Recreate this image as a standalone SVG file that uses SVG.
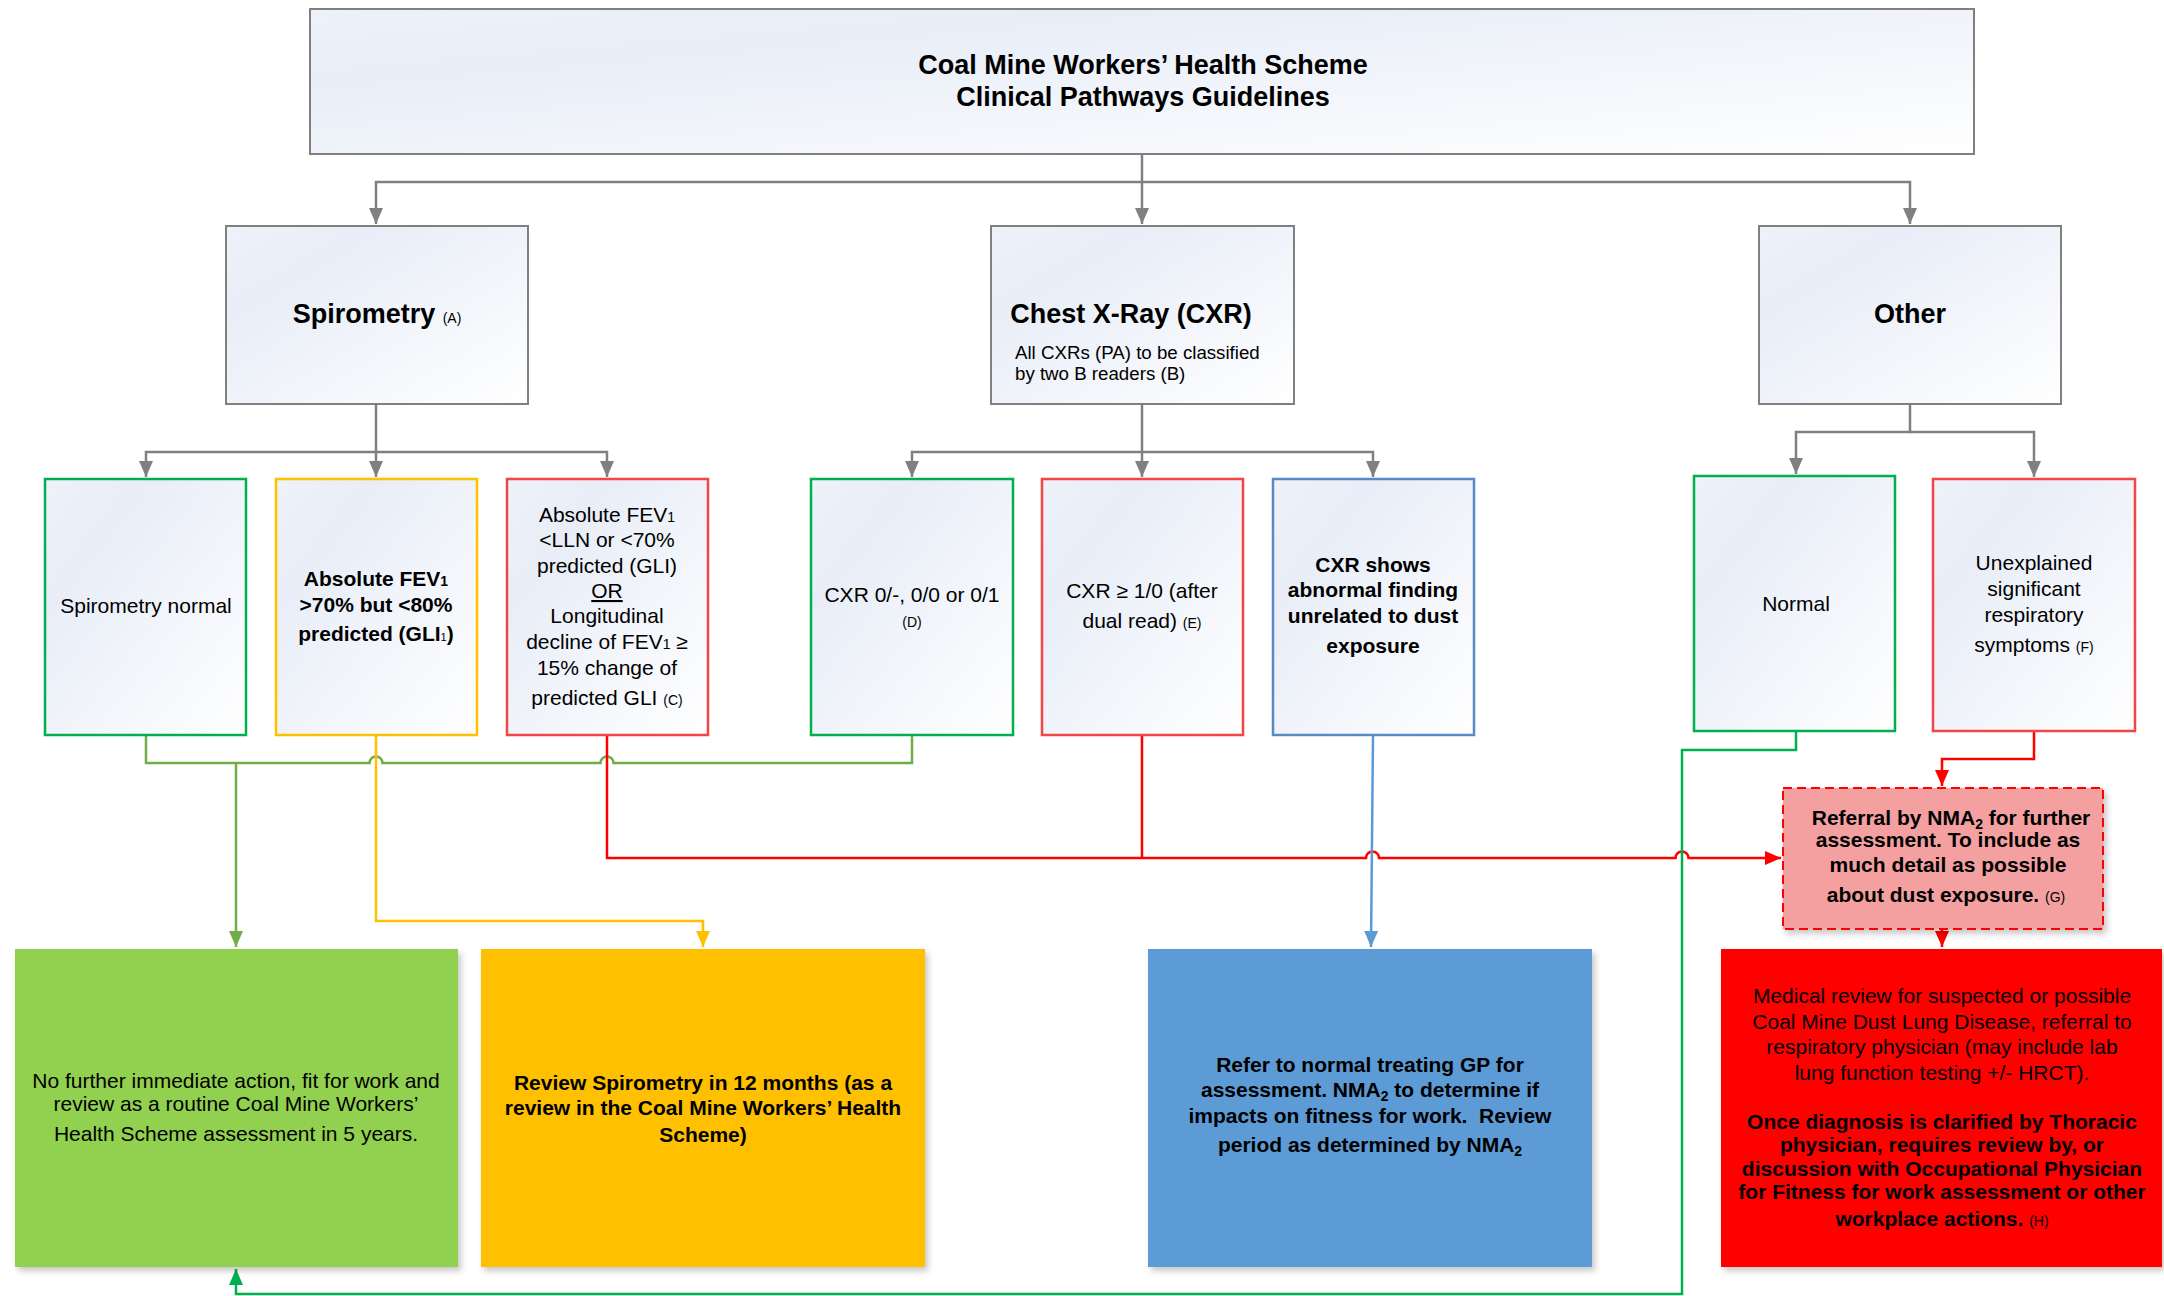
<svg xmlns="http://www.w3.org/2000/svg" width="2164" height="1296" viewBox="0 0 2164 1296">
<defs>
<linearGradient id="pale" x1="0" y1="0" x2="1" y2="1">
<stop offset="0" stop-color="#EEF2F9"/>
<stop offset="0.25" stop-color="#E8EDF7"/>
<stop offset="1" stop-color="#FFFFFF"/>
</linearGradient>
<filter id="shadow" x="-5%" y="-5%" width="115%" height="115%">
<feDropShadow dx="3" dy="4" stdDeviation="3" flood-color="#000000" flood-opacity="0.22"/>
</filter>
<marker id="aGray" markerUnits="userSpaceOnUse" markerWidth="16" markerHeight="16" refX="16" refY="8" orient="auto"><path d="M0,1 L16,8 L0,15 z" fill="#808080"/></marker>
<marker id="aGreen" markerUnits="userSpaceOnUse" markerWidth="16" markerHeight="16" refX="16" refY="8" orient="auto"><path d="M0,1 L16,8 L0,15 z" fill="#70AD47"/></marker>
<marker id="aGreen2" markerUnits="userSpaceOnUse" markerWidth="16" markerHeight="16" refX="16" refY="8" orient="auto"><path d="M0,1 L16,8 L0,15 z" fill="#00B050"/></marker>
<marker id="aYellow" markerUnits="userSpaceOnUse" markerWidth="16" markerHeight="16" refX="16" refY="8" orient="auto"><path d="M0,1 L16,8 L0,15 z" fill="#FFC000"/></marker>
<marker id="aRed" markerUnits="userSpaceOnUse" markerWidth="16" markerHeight="16" refX="16" refY="8" orient="auto"><path d="M0,1 L16,8 L0,15 z" fill="#FF0000"/></marker>
<marker id="aBlue" markerUnits="userSpaceOnUse" markerWidth="16" markerHeight="16" refX="16" refY="8" orient="auto"><path d="M0,1 L16,8 L0,15 z" fill="#5B9BD5"/></marker>
</defs>
<style>
text{font-family:"Liberation Sans",Arial,sans-serif;fill:#000;text-anchor:middle}
.t26{font-size:27px;font-weight:bold}
.r{font-size:21px}
.b{font-size:21px;font-weight:bold}
.s{font-size:14px;font-weight:normal}
.sub{font-size:14px}
.top{fill:url(#pale);stroke:#808080;stroke-width:2}
.l2{fill:url(#pale);stroke-width:2.5}
.gr{stroke:#00B050}.ye{stroke:#FFC000}.rd{stroke:#F24545}.bl{stroke:#5A8AC6}
.c{fill:none;stroke-width:2.5}
.cg{stroke:#808080;fill:none;stroke-width:2.5}
</style>

<g id="connectors">
<path class="cg" d="M1142,154 V182"/>
<path class="cg" d="M1142,182 H376 V224" marker-end="url(#aGray)"/>
<path class="cg" d="M1142,182 V224" marker-end="url(#aGray)"/>
<path class="cg" d="M1142,182 H1910 V224" marker-end="url(#aGray)"/>
<path class="cg" d="M376,404 V452 H146 V477" marker-end="url(#aGray)"/>
<path class="cg" d="M376,452 V477" marker-end="url(#aGray)"/>
<path class="cg" d="M376,452 H607 V477" marker-end="url(#aGray)"/>
<path class="cg" d="M1142,404 V452 H912 V477" marker-end="url(#aGray)"/>
<path class="cg" d="M1142,452 V477" marker-end="url(#aGray)"/>
<path class="cg" d="M1142,452 H1373 V477" marker-end="url(#aGray)"/>
<path class="cg" d="M1910,404 V432 H1796 V474" marker-end="url(#aGray)"/>
<path class="cg" d="M1910,432 H2034 V477" marker-end="url(#aGray)"/>

<path class="c" stroke="#70AD47" d="M146,735 V763 H369.5 A6.5,6.5 0 0 1 382.5,763 H600.5 A6.5,6.5 0 0 1 613.5,763 H912 V735"/>
<path class="c" stroke="#70AD47" d="M236,763 V947" marker-end="url(#aGreen)"/>
<path class="c" stroke="#FFC000" d="M376,735 V921 H703 V947" marker-end="url(#aYellow)"/>
<path class="c" stroke="#FF0000" d="M607,735 V858 H1366 A6.5,6.5 0 0 1 1379,858 H1675.5 A6.5,6.5 0 0 1 1688.5,858 H1781" marker-end="url(#aRed)"/>
<path class="c" stroke="#FF0000" d="M1142,735 V858"/>
<path class="c" stroke="#5B9BD5" d="M1373,735 L1371,947" marker-end="url(#aBlue)"/>
<path class="c" stroke="#00B050" d="M1796,731 V750 H1682 V1294 H236 V1269" marker-end="url(#aGreen2)"/>
<path class="c" stroke="#FF0000" d="M2034,731 V759 H1942 V786" marker-end="url(#aRed)"/>
<path class="c" stroke="#FF0000" d="M1942,929 V947" marker-end="url(#aRed)"/>
</g>

<g id="title">
<rect class="top" x="310" y="9" width="1664" height="145"/>
<text class="t26" x="1143" y="74">Coal Mine Workers’ Health Scheme</text>
<text class="t26" x="1143" y="106">Clinical Pathways Guidelines</text>
</g>

<g id="spirometry">
<rect class="top" x="226" y="226" width="302" height="178"/>
<text class="t26" x="377" y="323">Spirometry <tspan class="s">(A)</tspan></text>
</g>

<g id="cxr">
<rect class="top" x="991" y="226" width="303" height="178"/>
<text class="t26" x="1131" y="323">Chest X-Ray (CXR)</text>
<text style="font-size:18.7px;text-anchor:start" x="1015" y="359">All CXRs (PA) to be classified</text>
<text style="font-size:18.7px;text-anchor:start" x="1015" y="380">by two B readers (B)</text>
</g>

<g id="other">
<rect class="top" x="1759" y="226" width="302" height="178"/>
<text class="t26" x="1910" y="323">Other</text>
</g>

<g id="spiro-normal">
<rect class="l2 gr" x="45" y="479" width="201" height="256"/>
<text class="r" x="146" y="613">Spirometry normal</text>
</g>

<g id="spiro-mild">
<rect class="l2 ye" x="276" y="479" width="201" height="256"/>
<text class="b" x="376" y="586">Absolute FEV<tspan class="sub">1</tspan></text>
<text class="b" x="376" y="612">&gt;70% but &lt;80%</text>
<text class="b" x="376" y="641">predicted (GLI<tspan style="font-size:11px;font-weight:normal">1</tspan>)</text>
</g>

<g id="spiro-abnormal">
<rect class="l2 rd" x="507" y="479" width="201" height="256"/>
<text class="r" x="607" y="522">Absolute FEV<tspan class="sub">1</tspan></text>
<text class="r" x="607" y="547">&lt;LLN or &lt;70%</text>
<text class="r" x="607" y="573">predicted (GLI)</text>
<text class="r" x="607" y="598" text-decoration="underline">OR</text>
<text class="r" x="607" y="623">Longitudinal</text>
<text class="r" x="607" y="649">decline of FEV<tspan class="sub">1</tspan> ≥</text>
<text class="r" x="607" y="675">15% change of</text>
<text class="r" x="607" y="705">predicted GLI <tspan class="s">(C)</tspan></text>
</g>

<g id="cxr-normal">
<rect class="l2 gr" x="811" y="479" width="202" height="256"/>
<text class="r" x="912" y="602">CXR 0/-, 0/0 or 0/1</text>
<text class="s" x="912" y="627">(D)</text>
</g>

<g id="cxr-abnormal">
<rect class="l2 rd" x="1042" y="479" width="201" height="256"/>
<text class="r" x="1142" y="598">CXR ≥ 1/0 (after</text>
<text class="r" x="1142" y="628">dual read) <tspan class="s">(E)</tspan></text>
</g>

<g id="cxr-other">
<rect class="l2 bl" x="1273" y="479" width="201" height="256"/>
<text class="b" x="1373" y="572">CXR shows</text>
<text class="b" x="1373" y="597">abnormal finding</text>
<text class="b" x="1373" y="623">unrelated to dust</text>
<text class="b" x="1373" y="653">exposure</text>
</g>

<g id="other-normal">
<rect class="l2 gr" x="1694" y="476" width="201" height="255"/>
<text class="r" x="1796" y="611">Normal</text>
</g>

<g id="other-symptoms">
<rect class="l2 rd" x="1933" y="479" width="202" height="252"/>
<text class="r" x="2034" y="570">Unexplained</text>
<text class="r" x="2034" y="596">significant</text>
<text class="r" x="2034" y="622">respiratory</text>
<text class="r" x="2034" y="652">symptoms <tspan class="s">(F)</tspan></text>
</g>

<g id="referral">
<rect x="1783" y="788" width="320" height="141" fill="#F4A0A0" stroke="#FF0000" stroke-width="2" stroke-dasharray="9,5" filter="url(#shadow)"/>
<text class="b" x="1951" y="825">Referral by NMA<tspan class="sub" dy="4">2</tspan><tspan dy="-4"> for further</tspan></text>
<text class="b" x="1948" y="847">assessment. To include as</text>
<text class="b" x="1948" y="872">much detail as possible</text>
<text class="b" x="1946" y="902">about dust exposure. <tspan class="s">(G)</tspan></text>
</g>

<g id="outcome-green">
<rect x="15" y="949" width="443" height="318" fill="#92D050" filter="url(#shadow)"/>
<text class="r" x="236" y="1088">No further immediate action, fit for work and</text>
<text class="r" x="236" y="1111">review as a routine Coal Mine Workers’</text>
<text class="r" x="236" y="1141">Health Scheme assessment in 5 years.</text>
</g>

<g id="outcome-yellow">
<rect x="481" y="949" width="444" height="318" fill="#FFC000" filter="url(#shadow)"/>
<text class="b" x="703" y="1090">Review Spirometry in 12 months (as a</text>
<text class="b" x="703" y="1115">review in the Coal Mine Workers’ Health</text>
<text class="b" x="703" y="1142">Scheme)</text>
</g>

<g id="outcome-blue">
<rect x="1148" y="949" width="444" height="318" fill="#5B9BD5" filter="url(#shadow)"/>
<text class="b" x="1370" y="1072">Refer to normal treating GP for</text>
<text class="b" x="1370" y="1097">assessment. NMA<tspan class="sub" dy="4">2</tspan><tspan dy="-4"> to determine if</tspan></text>
<text class="b" x="1370" y="1123">impacts on fitness for work.&#160; Review</text>
<text class="b" x="1370" y="1152">period as determined by NMA<tspan class="sub" dy="4">2</tspan></text>
</g>

<g id="outcome-red">
<rect x="1721" y="949" width="441" height="318" fill="#FF0000" filter="url(#shadow)"/>
<text class="r" x="1942" y="1003">Medical review for suspected or possible</text>
<text class="r" x="1942" y="1029">Coal Mine Dust Lung Disease, referral to</text>
<text class="r" x="1942" y="1054">respiratory physician (may include lab</text>
<text class="r" x="1942" y="1080">lung function testing +/- HRCT).</text>
<text class="b" x="1942" y="1129">Once diagnosis is clarified by Thoracic</text>
<text class="b" x="1942" y="1152">physician, requires review by, or</text>
<text class="b" x="1942" y="1176">discussion with Occupational Physician</text>
<text class="b" x="1942" y="1199">for Fitness for work assessment or other</text>
<text class="b" x="1942" y="1226">workplace actions. <tspan class="s">(H)</tspan></text>
</g>
</svg>
